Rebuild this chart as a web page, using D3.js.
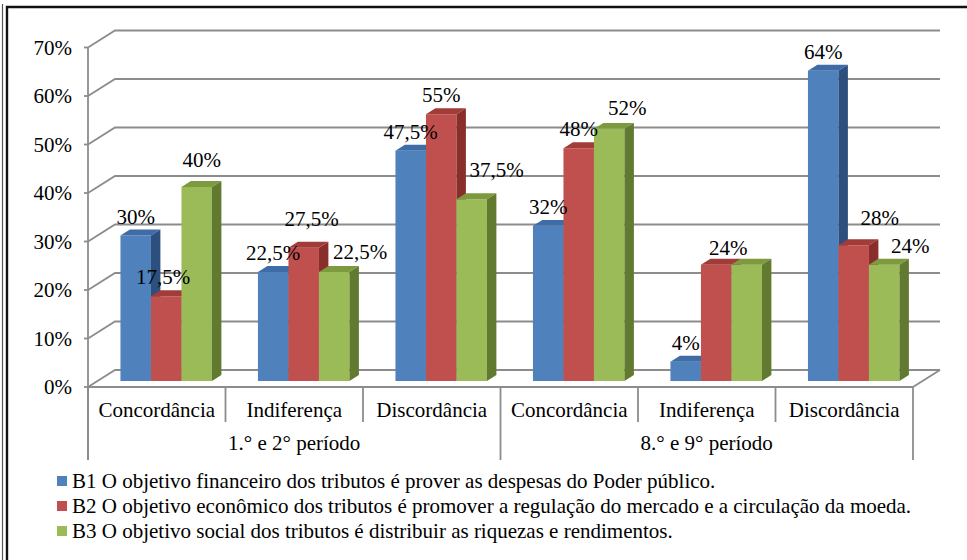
<!DOCTYPE html>
<html>
<head>
<meta charset="utf-8">
<script src="https://cdn.jsdelivr.net/npm/d3@7"></script>
</head>
<body style="margin:0">
<svg id="s" width="967" height="560"></svg>
<script>
// Survey answers per statement (B1, B2, B3), by period group and attitude
const categories = ["Concordância", "Indiferença", "Discordância", "Concordância", "Indiferença", "Discordância"];
const periods = ["1.° e 2° período", "8.° e 9° período"];
const seriesNames = [
  "B1 O objetivo financeiro dos tributos é prover as despesas do Poder público.",
  "B2 O objetivo econômico dos tributos é promover a regulação do mercado e a circulação da moeda.",
  "B3 O objetivo social dos tributos é distribuir as riquezas e rendimentos."
];
const b1 = [0.30, 0.225, 0.475, 0.32, 0.04, 0.64];
const b2 = [0.175, 0.275, 0.55, 0.48, 0.24, 0.28];
const b3 = [0.40, 0.225, 0.375, 0.52, 0.24, 0.24];
const yTicks = [0, 0.1, 0.2, 0.3, 0.4, 0.5, 0.6, 0.7];

// Label placement tweaks (px) to keep neighbouring value labels apart; null = label hidden
const labelNudge = [
  [[0, 0], [-3, 0], [5, -8]],
  [[0, 0], [8, -10], [26, -1]],
  [[0, 0], [0, 0], [25, -10]],
  [[0, 0], [0, 0], [18, -2]],
  [[0, 0], [12, 2], null],
  [[0, 0], [26, -8], [26, 0]]
];

const series = [b1, b2, b3];
const faceColors = [
  { front: "#4f81bd", top: "#3d6ca6", side: "#2c4f7e" },
  { front: "#c0504d", top: "#a13c39", side: "#8a2e2c" },
  { front: "#9bbb59", top: "#7d9a3e", side: "#627a30" }
];

const ptBR = d3.formatLocale({ decimal: ",", thousands: ".", grouping: [3], currency: ["R$", ""] });
const fmtLabel = ptBR.format(".1~%");
const fmtTick = ptBR.format(".0%");

const svg = d3.select("#s");

// Frame
svg.append("line").attr("x1", 2.5).attr("y1", 4).attr("x2", 2.5).attr("y2", 560)
  .attr("stroke", "#555").attr("stroke-width", 1.2);
svg.append("path").attr("d", "M7,560 V7 H967")
  .attr("fill", "none").attr("stroke", "#111").attr("stroke-width", 2.4);

// Plot geometry: front plane scales plus an oblique depth offset
const x = d3.scaleBand().domain(d3.range(categories.length)).range([88, 913]);
const y = d3.scaleLinear().domain([0, 0.7]).range([387, 47.5]);
const DX = 27, DY = -17;            // full depth of the floor
const d0 = 0.35, d1 = 0.70;         // depth span of the columns
const groupW = 91.5;
const sub = d3.scaleBand().domain([0, 1, 2]).range([0, groupW]);

const grid = svg.append("g").attr("stroke", "#8c8c8c").attr("stroke-width", 1.8).attr("fill", "none");

// Side wall and back wall gridlines
yTicks.forEach(t => {
  const yy = y(t);
  grid.append("path").attr("d", `M${x.range()[0]},${yy} L${x.range()[0] + DX},${yy + DY} H${x.range()[1] + DX}`);
});
// Floor right edge and front edge
grid.append("path").attr("d", `M${x.range()[1] + DX},${y(0) + DY} L${x.range()[1]},${y(0)}`);
grid.append("line").attr("x1", x.range()[0]).attr("x2", x.range()[1]).attr("y1", y(0)).attr("y2", y(0));

// Value axis line and ticks
grid.append("line").attr("x1", 88).attr("x2", 88).attr("y1", y(0.7)).attr("y2", 460);
yTicks.forEach(t => {
  grid.append("line").attr("x1", 84).attr("x2", 88).attr("y1", y(t)).attr("y2", y(t));
});

// Category axis dividers
const bounds = d3.range(categories.length + 1).map(i => i < categories.length ? x(i) : x.range()[1]);
bounds.forEach((bx, i) => {
  grid.append("line").attr("x1", bx).attr("x2", bx).attr("y1", y(0)).attr("y2", i % 3 === 0 ? 460 : 422);
});

// Columns, drawn left to right so each front face covers its neighbour's side
const bars = svg.append("g");
const labelData = [];
categories.forEach((c, ci) => {
  const gx = x(ci) + (x.bandwidth() - groupW) / 2;
  series.forEach((vals, si) => {
    const v = vals[ci];
    const xl = gx + sub(si) + DX * d0;
    const xr = xl + sub.bandwidth();
    const yb = y(0) + DY * d0;
    const yt = y(v) + DY * d0;
    const ox = DX * (d1 - d0), oy = DY * (d1 - d0);
    const col = faceColors[si];
    bars.append("path").attr("d", `M${xl},${yb} V${yt} H${xr} V${yb} Z`).attr("fill", col.front);
    bars.append("path").attr("d", `M${xl},${yt} L${xl + ox},${yt + oy} H${xr + ox} L${xr},${yt} Z`).attr("fill", col.top);
    bars.append("path").attr("d", `M${xr},${yb} V${yt} L${xr + ox},${yt + oy} V${yb + oy} Z`).attr("fill", col.side);
    const nudge = labelNudge[ci][si];
    if (nudge) {
      labelData.push({ v, cx: (xl + xr) / 2 + nudge[0], cy: yt + oy - 13 + nudge[1] });
    }
  });
});

// All texts collected into one list and drawn in a single join
const texts = [];
yTicks.forEach(t => texts.push({ s: fmtTick(t), x: 72, y: y(t) + 7, a: "end" }));
categories.forEach((c, i) => texts.push({ s: c, x: x(i) + x.bandwidth() / 2, y: 417, a: "middle" }));
periods.forEach((p, i) => {
  const left = x(i * 3), right = i * 3 + 3 < categories.length ? x(i * 3 + 3) : x.range()[1];
  texts.push({ s: p, x: (left + right) / 2, y: 450, a: "middle" });
});
labelData.forEach(d => texts.push({ s: fmtLabel(d.v), x: d.cx, y: d.cy + 7, a: "middle" }));
seriesNames.forEach((n, i) => texts.push({ s: n, x: 72, y: 481 + i * 25 + 7, a: "start" }));

svg.selectAll("text").data(texts).join("text")
  .attr("x", d => d.x).attr("y", d => d.y)
  .attr("font-size", 21)
  .attr("font-family", "Liberation Serif")
  .attr("text-anchor", d => d.a)
  .text(d => d.s);

// Legend swatches
svg.append("g").selectAll("rect").data(seriesNames).join("rect")
  .attr("x", 57).attr("y", (d, i) => 481 + i * 25 - 5).attr("width", 10).attr("height", 10)
  .attr("fill", (d, i) => faceColors[i].front);
</script>
</body>
</html>
